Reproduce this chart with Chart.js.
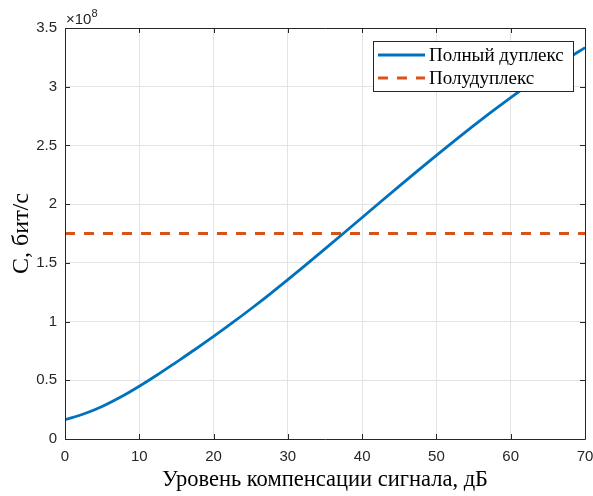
<!DOCTYPE html>
<html>
<head>
<meta charset="utf-8">
<script src="https://cdn.jsdelivr.net/npm/chart.js@4.4.1/dist/chart.umd.min.js"></script>
<style>
html,body{margin:0;padding:0;background:#fff;}
canvas{display:block;}
</style>
</head>
<body>
<canvas id="c" width="593" height="496"></canvas>
<script>
// ---- data ----
const compensationDb = [0, 2.5, 5, 7.5, 10, 12.5, 15, 17.5, 20, 22.5, 25, 27.5, 30, 32.5, 35, 37.5, 40, 42.5, 45, 47.5, 50, 52.5, 55, 57.5, 60, 62.5, 65, 67.5, 70];
const fullDuplex = [0.165, 0.213, 0.277, 0.357, 0.449, 0.549, 0.655, 0.762, 0.873, 0.988, 1.107, 1.230, 1.357, 1.487, 1.619, 1.752, 1.886, 2.020, 2.153, 2.285, 2.415, 2.543, 2.668, 2.790, 2.908, 3.021, 3.129, 3.233, 3.333];
const halfDuplexX = [0, 70];
const halfDuplex = [1.75, 1.75];
const xTicks = [0, 10, 20, 30, 40, 50, 60, 70];
const yTicks = [0, 0.5, 1, 1.5, 2, 2.5, 3, 3.5];
const yExponent = '8';
const seriesNames = ['Полный дуплекс', 'Полудуплекс'];
const xTitle = 'Уровень компенсации сигнала, дБ';
const yTitle = 'С, бит/с';

const BLUE = '#0072BD', ORANGE = '#D95319', AX = '#262626';
const SANS = '"Liberation Sans", Arial, sans-serif';
const SERIF = '"Liberation Serif", "Times New Roman", serif';

const boxPlugin = {
  id: 'matlabBox',
  afterDatasetsDraw(chart) {
    const {ctx, chartArea: a, scales: {x, y}} = chart;
    ctx.save();
    ctx.strokeStyle = AX;
    ctx.lineWidth = 1;
    ctx.beginPath();
    ctx.rect(Math.round(a.left) + 0.5, Math.round(a.top) + 0.5, Math.round(a.right - a.left), Math.round(a.bottom - a.top));
    ctx.stroke();
    const tl = 5;
    ctx.beginPath();
    xTicks.forEach(v => {
      const px = Math.round(x.getPixelForValue(v)) + 0.5;
      ctx.moveTo(px, a.bottom); ctx.lineTo(px, a.bottom - tl);
      ctx.moveTo(px, a.top); ctx.lineTo(px, a.top + tl);
    });
    yTicks.forEach(v => {
      const py = Math.round(y.getPixelForValue(v)) + 0.5;
      ctx.moveTo(a.left, py); ctx.lineTo(a.left + tl, py);
      ctx.moveTo(a.right, py); ctx.lineTo(a.right - tl, py);
    });
    ctx.stroke();
    // exponent
    ctx.fillStyle = AX;
    ctx.textBaseline = 'alphabetic';
    ctx.textAlign = 'left';
    ctx.font = '15px ' + SANS;
    ctx.fillText('×10', a.left + 1, a.top - 4);
    const w = ctx.measureText('×10').width;
    ctx.font = '11px ' + SANS;
    ctx.fillText(yExponent, a.left + 1 + w, a.top - 11);
    // legend
    const lx = 373, ly = 41, lw = 200, lh = 50;
    ctx.fillStyle = '#fff';
    ctx.fillRect(lx, ly, lw, lh);
    ctx.strokeStyle = AX;
    ctx.lineWidth = 1;
    ctx.strokeRect(lx + 0.5, ly + 0.5, lw, lh);
    const ds = chart.data.datasets;
    const rows = [55, 78];
    ds.forEach((d, i) => {
      ctx.beginPath();
      ctx.strokeStyle = d.borderColor;
      ctx.lineWidth = d.borderWidth;
      ctx.setLineDash(d.borderDash || []);
      ctx.moveTo(378, rows[i]); ctx.lineTo(425, rows[i]);
      ctx.stroke();
      ctx.setLineDash([]);
      ctx.fillStyle = '#000';
      ctx.font = '19px ' + SERIF;
      ctx.textBaseline = 'middle';
      ctx.fillText(d.label, 429, rows[i] + 1);
    });
    ctx.restore();
  }
};

new Chart(document.getElementById('c'), {
  type: 'line',
  data: {
    datasets: [
      {
        label: seriesNames[0],
        data: compensationDb.map((v, i) => ({x: v, y: fullDuplex[i]})),
        borderColor: BLUE, borderWidth: 2.8, pointRadius: 0,
        cubicInterpolationMode: 'monotone', fill: false
      },
      {
        label: seriesNames[1],
        data: halfDuplexX.map((v, i) => ({x: v, y: halfDuplex[i]})),
        borderColor: ORANGE, borderWidth: 2.8, borderDash: [10, 9], pointRadius: 0, fill: false
      }
    ]
  },
  options: {
    responsive: false,
    devicePixelRatio: 1,
    animation: false,
    layout: {padding: {left: 0, right: 8, top: 28, bottom: 0}},
    plugins: {legend: {display: false}, tooltip: {enabled: false}},
    scales: {
      x: {
        type: 'linear', min: 0, max: 70,
        afterBuildTicks: s => { s.ticks = xTicks.map(v => ({value: v})); },
        afterFit: s => { s.height = 57; s.paddingLeft = 0; s.paddingRight = 0; },
        grid: {color: '#e3e3e3', drawTicks: false},
        border: {display: false},
        ticks: {color: AX, font: {family: SANS, size: 15}, padding: 9, maxRotation: 0,
          callback: v => String(v)},
        title: {display: true, text: xTitle, color: '#000', font: {family: SERIF, size: 22.5}, padding: {top: 0, bottom: 2}}
      },
      y: {
        type: 'linear', min: 0, max: 3.5,
        afterBuildTicks: s => { s.ticks = yTicks.map(v => ({value: v})); },
        afterFit: s => { s.width = 65; s.paddingTop = 0; s.paddingBottom = 0; },
        grid: {color: '#e3e3e3', drawTicks: false},
        border: {display: false},
        ticks: {color: AX, font: {family: SANS, size: 15}, padding: 8,
          callback: v => String(v)},
        title: {display: true, text: yTitle, color: '#000', font: {family: SERIF, size: 24}, padding: {top: 7, bottom: 0}}
      }
    }
  },
  plugins: [boxPlugin]
});
</script>
</body>
</html>
